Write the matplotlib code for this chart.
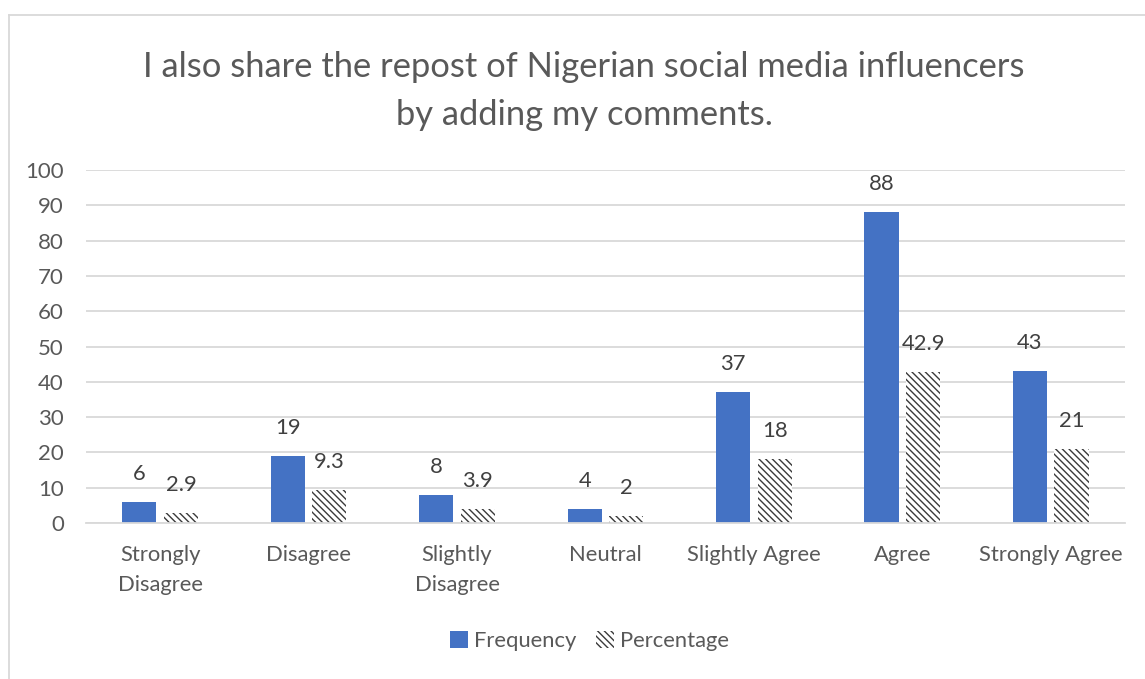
import matplotlib
matplotlib.use("Agg")
import matplotlib.pyplot as plt
import numpy as np
from matplotlib.patches import Rectangle
from matplotlib.lines import Line2D

categories = ["Strongly\nDisagree", "Disagree", "Slightly\nDisagree", "Neutral",
              "Slightly Agree", "Agree", "Strongly Agree"]
frequency = [6, 19, 8, 4, 37, 88, 43]
percentage = [2.9, 9.3, 3.9, 2, 18, 42.9, 21]
freq_labels = ["6", "19", "8", "4", "37", "88", "43"]
pct_labels = ["2.9", "9.3", "3.9", "2", "18", "42.9", "21"]
yticks = [0, 10, 20, 30, 40, 50, 60, 70, 80, 90, 100]

title = "I also share the repost of Nigerian social media influencers\nby adding my comments."

plt.rcParams["font.family"] = ["Lato", "DejaVu Sans"]
plt.rcParams["hatch.linewidth"] = 1.0

TEXT = "#595959"
LABEL = "#404040"
BLUE = "#4472C4"
GRID = "#D9D9D9"
FS = 15.8

fig = plt.figure(figsize=(11.45, 6.79), dpi=100)
ax = fig.add_axes([0.0751, 0.2297, 0.9074, 0.5199])

x = np.arange(len(categories))
w = 0.23
off = 0.14
bars_f = ax.bar(x - off, frequency, w, color=BLUE, linewidth=0, label="Frequency", zorder=3)
bars_p = ax.bar(x + off, percentage, w, color="white", edgecolor="#3A3A3A", linewidth=0,
                hatch="\\" * 5, label="Percentage", zorder=3)

for rect, txt in zip(bars_f, freq_labels):
    ax.annotate(txt, (rect.get_x() + rect.get_width() / 2, rect.get_height()),
                xytext=(0, 13), textcoords="offset points", ha="center", va="bottom",
                fontsize=FS, color=LABEL)
for rect, txt in zip(bars_p, pct_labels):
    ax.annotate(txt, (rect.get_x() + rect.get_width() / 2, rect.get_height()),
                xytext=(0, 13), textcoords="offset points", ha="center", va="bottom",
                fontsize=FS, color=LABEL)

ax.set_xlim(-0.5, len(categories) - 0.5)
ax.set_ylim(0, 100)
ax.set_yticks(yticks)
ax.set_yticklabels([str(t) for t in yticks])
ax.set_xticks(x)
ax.set_xticklabels(categories, linespacing=1.6)
ax.tick_params(axis="y", length=0, pad=16, labelsize=16, labelcolor=TEXT)
ax.tick_params(axis="x", length=0, pad=16, labelsize=FS, labelcolor=TEXT)
for lab in ax.get_xticklabels():
    lab.set_verticalalignment("top")
ax.yaxis.grid(True, color=GRID, linewidth=1.3, zorder=0)
ax.set_axisbelow(True)
for s in ["top", "right", "left"]:
    ax.spines[s].set_visible(False)
ax.spines["bottom"].set_color(GRID)
ax.spines["bottom"].set_linewidth(1.3)
ax.spines["bottom"].set_zorder(4)

fig.text(0.51, 1 - 91 / 679, title, ha="center", va="center", fontsize=24.8,
         color=TEXT, linespacing=1.6)

handles = [Rectangle((0, 0), 1, 1, facecolor=BLUE, linewidth=0),
           Rectangle((0, 0), 1, 1, facecolor="white", edgecolor="#3A3A3A", linewidth=0,
                     hatch="\\" * 5)]
leg = fig.legend(handles, ["Frequency", "Percentage"], loc="center",
                 bbox_to_anchor=(0.515, 1 - 641 / 679), ncol=2, frameon=False,
                 fontsize=FS, handlelength=0.8, handleheight=0.8, handletextpad=0.3,
                 columnspacing=0.9, labelcolor=TEXT)

# chart frame (top and left edges)
fig.add_artist(Line2D([9 / 1145, 9 / 1145], [0, 1 - 15 / 679], transform=fig.transFigure,
                      color="#D9D9D9", linewidth=1.3))
fig.add_artist(Line2D([9 / 1145, 1], [1 - 15 / 679, 1 - 15 / 679], transform=fig.transFigure,
                      color="#D9D9D9", linewidth=1.3))

fig.savefig("out.png", dpi=100, facecolor="white")
